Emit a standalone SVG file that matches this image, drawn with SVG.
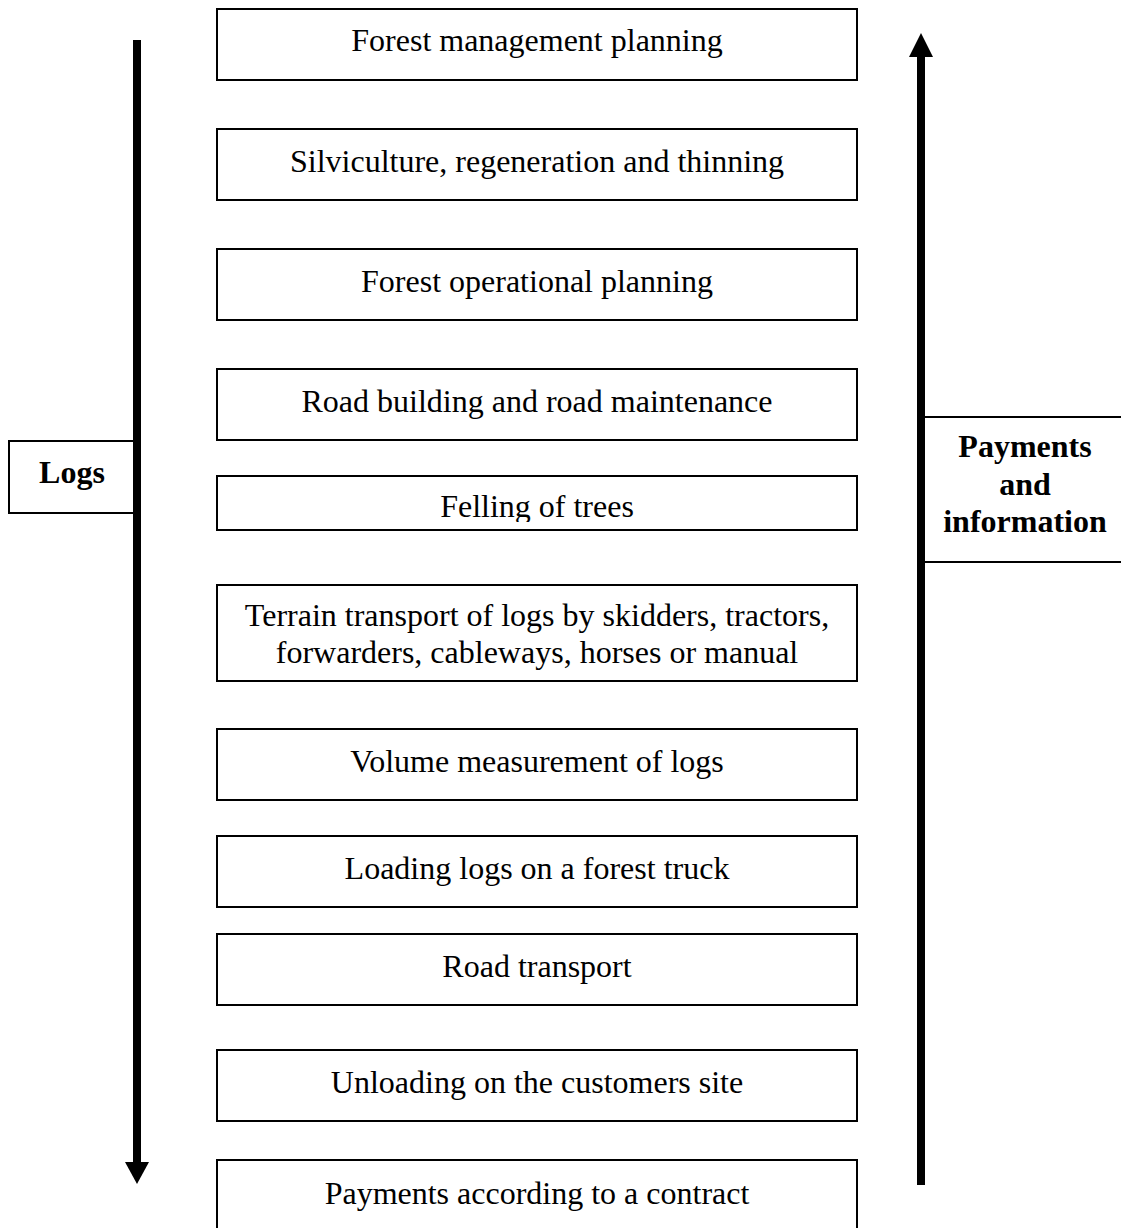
<svg xmlns="http://www.w3.org/2000/svg" width="1121" height="1228" viewBox="0 0 1121 1228">
<style>
.box{fill:#fff;stroke:#000;stroke-width:2}
.t{font-family:"Liberation Serif","Times New Roman",serif;font-size:32px;fill:#000;text-anchor:middle}
.b{font-weight:bold}
.shaft{fill:#000}
</style>
<defs>
<clipPath id="c5"><rect x="217" y="477" width="639" height="45"/></clipPath>
</defs>
<rect width="1121" height="1228" fill="#fff"/>
<g id="n1"><rect class="box" x="217" y="9" width="640" height="71"/><text class="t" x="537" y="51">Forest management planning</text></g>
<g id="n2"><rect class="box" x="217" y="129" width="640" height="71"/><text class="t" x="537" y="172">Silviculture, regeneration and thinning</text></g>
<g id="n3"><rect class="box" x="217" y="249" width="640" height="71"/><text class="t" x="537" y="292">Forest operational planning</text></g>
<g id="n4"><rect class="box" x="217" y="369" width="640" height="71"/><text class="t" x="537" y="412">Road building and road maintenance</text></g>
<g id="n5"><rect class="box" x="217" y="476" width="640" height="54"/><text class="t" x="537" y="517" clip-path="url(#c5)">Felling of trees</text></g>
<g id="n6"><rect class="box" x="217" y="585" width="640" height="96"/><text class="t" x="537" y="626">Terrain transport of logs by skidders, tractors,</text><text class="t" x="537" y="663">forwarders, cableways, horses or manual</text></g>
<g id="n7"><rect class="box" x="217" y="729" width="640" height="71"/><text class="t" x="537" y="772">Volume measurement of logs</text></g>
<g id="n8"><rect class="box" x="217" y="836" width="640" height="71"/><text class="t" x="537" y="879">Loading logs on a forest truck</text></g>
<g id="n9"><rect class="box" x="217" y="934" width="640" height="71"/><text class="t" x="537" y="977">Road transport</text></g>
<g id="n10"><rect class="box" x="217" y="1050" width="640" height="71"/><text class="t" x="537" y="1093">Unloading on the customers site</text></g>
<g id="n11"><rect class="box" x="217" y="1160" width="640" height="80"/><text class="t" x="537" y="1204">Payments according to a contract</text></g>
<g id="logs"><rect class="box" x="9" y="441" width="127" height="72"/><text class="t b" x="72" y="483">Logs</text></g>
<g id="payments"><rect class="box" x="922" y="417" width="210" height="145"/><text class="t b" x="1025" y="457">Payments</text><text class="t b" x="1025" y="495">and</text><text class="t b" x="1025" y="532">information</text></g>
<g id="connectors">
<rect class="shaft" x="133" y="40" width="8" height="1123"/>
<polygon class="shaft" points="125,1162 149,1162 137,1184"/>
<rect class="shaft" x="917" y="56" width="8" height="1129"/>
<polygon class="shaft" points="909,57 933,57 921,33"/>
</g>
</svg>
